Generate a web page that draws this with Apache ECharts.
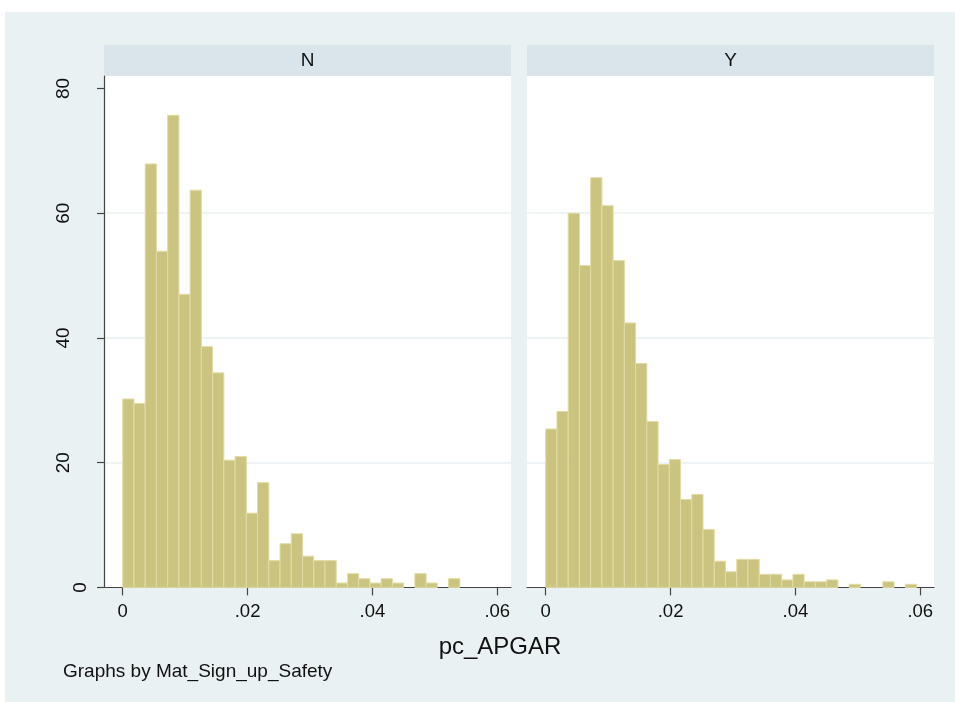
<!DOCTYPE html>
<html>
<head>
<meta charset="utf-8">
<title>pc_APGAR by Mat_Sign_up_Safety</title>
<script src="https://cdn.jsdelivr.net/npm/echarts@6/dist/echarts.min.js"></script>
<style>
  html, body { margin: 0; padding: 0; background: #e9f1f3; overflow: hidden; }
  #chart { width: 955px; height: 702px; }
</style>
</head>
<body>
<div id="chart"></div>
<script>
// Panel labels (values of Mat_Sign_up_Safety)
const panelNames = ['N', 'Y'];

// Histogram bins: width and start of the first bin
const binStart = 0;
const binWidth = 0.0018;

// Density per bin, panel N
const densityN = [30.2, 29.5, 67.9, 53.9, 75.7, 47.0, 63.7, 38.6, 34.4, 20.4,
                  21.0, 11.9, 16.8, 4.3, 7.0, 8.6, 5.0, 4.3, 4.3, 0.7,
                  2.2, 1.4, 0.7, 1.4, 0.7, 0, 2.2, 0.7, 0, 1.4];

// Density per bin, panel Y
const densityY = [25.4, 28.2, 60.0, 51.6, 65.7, 61.2, 52.4, 42.4, 35.9, 26.6,
                  19.7, 20.5, 14.1, 14.9, 9.3, 4.2, 2.5, 4.5, 4.5, 2.1,
                  2.1, 1.2, 2.1, 0.9, 0.9, 1.2, 0, 0.5, 0, 0,
                  0.9, 0, 0.5];

// Axis ticks
const xTicks = [0, 0.02, 0.04, 0.06];
const yTicks = [0, 20, 40, 60, 80];

const xTitle = 'pc_APGAR';
const noteText = 'Graphs by Mat_Sign_up_Safety';

const FONT = "'Liberation Sans', Arial, Helvetica, sans-serif";
const AXIS_COLOR = '#454545';
const TEXT_COLOR = '#111111';

const panels = [
  { left: 104, values: densityN, showY: true },
  { left: 527, values: densityY, showY: false }
];
const plotTop = 76;
const plotHeight = 511.4;
const plotWidth = 407;

function fmtX(v) {
  if (v === 0) return '0';
  return String(+v.toFixed(4)).replace(/^0\./, '.');
}

const chart = echarts.init(document.getElementById('chart'), null, { renderer: 'canvas' });

const grids = panels.map(p => ({
  left: p.left, top: plotTop, width: plotWidth, height: plotHeight,
  show: true, backgroundColor: '#ffffff', borderWidth: 0,
  containLabel: false
}));

const xAxes = panels.map((p, i) => ({
  type: 'value', gridIndex: i,
  min: -0.003, max: 0.0622,
  axisLine: { show: true, onZero: false, lineStyle: { color: AXIS_COLOR, width: 1.2 } },
  axisTick: { show: true, customValues: xTicks, length: 8, lineStyle: { color: AXIS_COLOR, width: 1.2 } },
  axisLabel: {
    show: true, customValues: xTicks, formatter: fmtX,
    fontFamily: FONT, fontSize: 18.5, color: TEXT_COLOR, margin: 15
  },
  splitLine: { show: false }
}));

const yAxes = panels.map((p, i) => ({
  type: 'value', gridIndex: i,
  min: 0, max: 82, interval: 20,
  axisLine: { show: p.showY, onZero: false, lineStyle: { color: AXIS_COLOR, width: 1.2 } },
  axisTick: { show: p.showY, customValues: yTicks, length: 7, lineStyle: { color: AXIS_COLOR, width: 1.2 } },
  axisLabel: {
    show: p.showY, customValues: yTicks, rotate: 90, margin: 13.5,
    fontFamily: FONT, fontSize: 19, color: TEXT_COLOR,
    formatter: v => (v === 0 ? '{z|0}' : '{w|' + v + '}'),
    rich: {
      z: { fontFamily: FONT, fontSize: 19, color: TEXT_COLOR },
      w: { fontFamily: FONT, fontSize: 19, color: TEXT_COLOR, padding: [0, 0, 17, 0] }
    }
  },
  splitLine: { show: true, showMinLine: false, showMaxLine: false, lineStyle: { color: '#e8f0f2', width: 1.5 } }
}));

function histSeries(values, idx) {
  return {
    type: 'custom',
    xAxisIndex: idx, yAxisIndex: idx,
    data: values.map((v, k) => [binStart + k * binWidth, binStart + (k + 1) * binWidth, v]),
    encode: { x: [0, 1], y: 2 },
    renderItem: (params, api) => {
      const h = api.value(2);
      if (!h) return null;
      const p0 = api.coord([api.value(0), h]);
      const p1 = api.coord([api.value(1), 0]);
      return {
        type: 'rect',
        shape: { x: p0[0], y: p0[1], width: p1[0] - p0[0], height: p1[1] - p0[1] },
        style: { fill: '#cbc380', stroke: '#e2dca4', lineWidth: 1 }
      };
    },
    animation: false
  };
}

const headerGraphics = panels.map((p, i) => ({
  type: 'group',
  children: [
    { type: 'rect', shape: { x: p.left, y: 45, width: plotWidth, height: 31 }, style: { fill: '#d9e5ea' } },
    {
      type: 'text',
      style: {
        x: p.left + plotWidth / 2, y: 60.5, text: panelNames[i],
        textAlign: 'center', textVerticalAlign: 'middle',
        font: '19px ' + FONT, fill: TEXT_COLOR
      }
    }
  ]
}));

chart.setOption({
  animation: false,
  backgroundColor: '#e9f1f3',
  grid: grids,
  xAxis: xAxes,
  yAxis: yAxes,
  series: panels.map((p, i) => histSeries(p.values, i)),
  graphic: [
    // white page margin along the top and left edges
    { type: 'rect', shape: { x: 0, y: 0, width: 955, height: 12 }, style: { fill: '#ffffff' }, silent: true },
    { type: 'rect', shape: { x: 0, y: 0, width: 5, height: 702 }, style: { fill: '#ffffff' }, silent: true },
    ...headerGraphics,
    {
      type: 'text',
      style: {
        x: 500, y: 647, text: xTitle, textAlign: 'center', textVerticalAlign: 'middle',
        font: '24px ' + FONT, fill: TEXT_COLOR
      }
    },
    {
      type: 'text',
      style: {
        x: 63, y: 672, text: noteText, textAlign: 'left', textVerticalAlign: 'middle',
        font: '19px ' + FONT, fill: TEXT_COLOR
      }
    }
  ]
});
</script>
</body>
</html>
